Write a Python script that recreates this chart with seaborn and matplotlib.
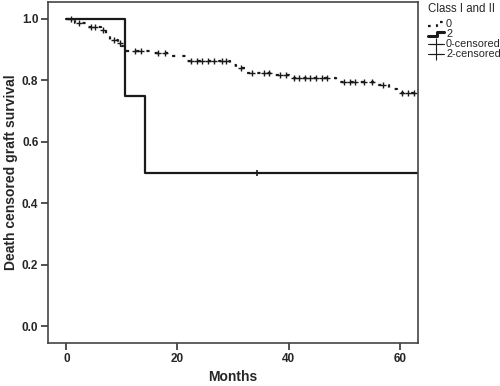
import numpy as np
import pandas as pd
import matplotlib
matplotlib.use("Agg")
import matplotlib.pyplot as plt
import seaborn as sns
from matplotlib.lines import Line2D
from matplotlib.legend_handler import HandlerBase

# ---- data ----
g0_times = [0, 1.5, 3.6, 6.3, 7.2, 7.8, 9.3, 9.9, 10.8, 15.0, 19.0, 21.5,
            29.5, 30.5, 32.5, 37.5, 40.0, 48.5, 56.0, 58.0, 59.5, 63.3]
g0_surv = [1.0, 0.986, 0.973, 0.964, 0.948, 0.932, 0.921, 0.912, 0.897, 0.889,
           0.879, 0.863, 0.850, 0.841, 0.825, 0.818, 0.807, 0.793, 0.785, 0.772,
           0.758, 0.758]
g0_censored = [0.8, 2.2, 4.5, 5.2, 6.6, 8.5, 9.6, 12.3, 13.5, 16.5, 17.8,
               22.5, 23.5, 24.5, 25.5, 26.5, 28.0, 28.8, 31.5, 33.5, 35.5,
               36.5, 38.5, 39.5, 41.0, 41.8, 43.0, 43.8, 45.0, 46.0, 47.0,
               50.0, 51.0, 52.0, 53.5, 55.0, 57.0, 60.5, 61.5, 62.5]
g2_times = [0, 10.5, 14.1, 63.3]
g2_surv = [1.0, 0.75, 0.5, 0.5]
g2_censored = [34.4]

xticks = [0, 20, 40, 60]
yticks = [0.0, 0.2, 0.4, 0.6, 0.8, 1.0]
legend_title = "Class I and II"
legend_labels = ["0", "2", "0-censored", "2-censored"]

DOTS = (0, (1.2, 2.4))


def surv_at(times, surv, t):
    idx = np.searchsorted(times, t, side="right") - 1
    return np.asarray(surv)[idx]


class StepHandler(HandlerBase):
    def __init__(self, ls, lw):
        super().__init__()
        self.ls = ls
        self.lw = lw

    def create_artists(self, legend, orig_handle, xdescent, ydescent,
                       width, height, fontsize, trans):
        x0, x1 = -xdescent, -xdescent + width
        xm = x0 + width * 0.55
        ylo = -ydescent + height * 0.2
        yhi = -ydescent + height * 0.8
        ln = Line2D([x0, xm, xm, x1], [ylo, ylo, yhi, yhi], color="#1a1a1a",
                    lw=self.lw, linestyle=self.ls, transform=trans)
        return [ln]


sns.set_style("white")
plt.rcParams["font.family"] = ["Liberation Sans", "DejaVu Sans"]

fig = plt.figure(figsize=(5.0, 3.86), dpi=100)
ax = fig.add_axes([0.096, 0.111, 0.74, 0.884])

df0 = pd.DataFrame({"t": g0_times, "s": g0_surv})
df2 = pd.DataFrame({"t": g2_times, "s": g2_surv})

sns.lineplot(data=df0, x="t", y="s", ax=ax, drawstyle="steps-post",
             color="#1a1a1a", linewidth=1.6, linestyle=(0, (1.4, 3.2)),
             estimator=None, sort=False)
sns.lineplot(data=df2, x="t", y="s", ax=ax, drawstyle="steps-post",
             color="#1a1a1a", linewidth=1.6, estimator=None, sort=False)

c0 = pd.DataFrame({"t": g0_censored,
                   "s": surv_at(g0_times, g0_surv, np.array(g0_censored))})
c2 = pd.DataFrame({"t": g2_censored,
                   "s": surv_at(g2_times, g2_surv, np.array(g2_censored))})
sns.scatterplot(data=c0, x="t", y="s", ax=ax, marker="+", s=22,
                color="#1a1a1a", linewidth=1.0)
sns.scatterplot(data=c2, x="t", y="s", ax=ax, marker="|", s=22,
                color="#1a1a1a", linewidth=1.2)

ax.set_xlim(-3.3, 63.3)
ax.set_ylim(-0.055, 1.055)
ax.set_xticks(xticks)
ax.set_yticks(yticks)
ax.set_xticklabels([str(v) for v in xticks], fontsize=8.5, fontweight="bold")
ax.set_yticklabels([f"{v:.1f}" for v in yticks], fontsize=8.5, fontweight="bold")
ax.tick_params(axis="both", direction="out", length=5, width=1.2,
               color="#333333", pad=2, bottom=True, left=True)
ax.set_xlabel("Months", fontsize=10, fontweight="bold", labelpad=4)
ax.set_ylabel("Death censored graft survival", fontsize=10,
              fontweight="bold", labelpad=3)
for sp in ax.spines.values():
    sp.set_visible(True)
    sp.set_color("#444444")
    sp.set_linewidth(1.2)

h_dot = Line2D([], [], color="#1a1a1a")
h_solid = Line2D([], [], color="#1a1a1a")
h_c0 = Line2D([], [], color="#1a1a1a", lw=0.8, marker="+", markersize=8,
              markeredgewidth=0.8)
h_c2 = Line2D([], [], color="#1a1a1a", lw=0.8, marker="+", markersize=8,
              markeredgewidth=0.8)
leg = fig.legend([h_dot, h_solid, h_c0, h_c2], legend_labels,
                 title=legend_title,
                 handler_map={h_dot: StepHandler(DOTS, 1.6),
                              h_solid: StepHandler("-", 2.2)},
                 loc="upper left", bbox_to_anchor=(0.852, 0.997),
                 frameon=False, fontsize=7.8, title_fontsize=8.3,
                 handlelength=1.5, handleheight=0.6, handletextpad=0.15,
                 labelspacing=0.0, borderaxespad=0, borderpad=0.2)
leg._legend_box.align = "left"
leg._legend_box.sep = 3

fig.savefig("out.png", dpi=100)
